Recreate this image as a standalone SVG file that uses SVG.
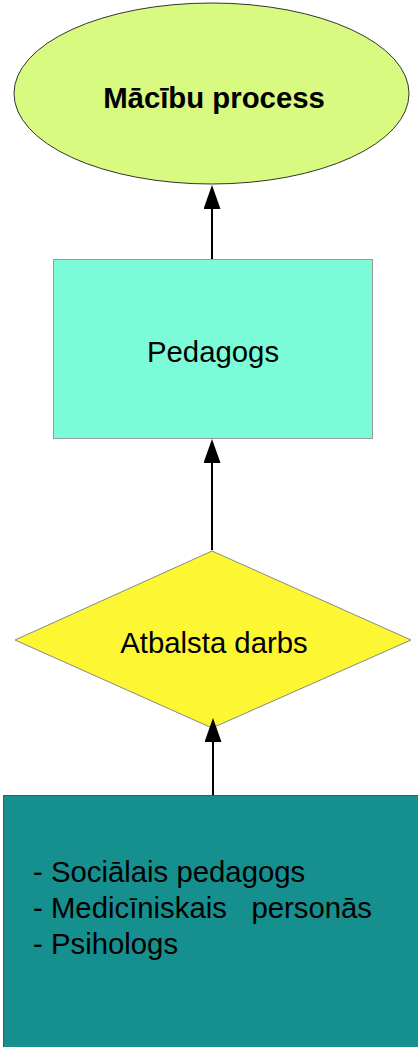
<svg xmlns="http://www.w3.org/2000/svg" width="418" height="1047" viewBox="0 0 418 1047">
<style>
  .lbl { font-family: "Liberation Sans", Arial, sans-serif; font-size: 29.33px; fill: #000; }
  .conn { stroke: #000; stroke-width: 2; fill: none; marker-end: url(#arr); }
</style>
<defs>
  <marker id="arr" viewBox="0 0 24 17" refX="0" refY="8.5" markerWidth="24" markerHeight="17" markerUnits="userSpaceOnUse" orient="auto">
    <path d="M0,0 L24,8.5 L0,17 z" fill="#000"/>
  </marker>
</defs>
<rect width="418" height="1047" fill="#fff"/>
<g id="node-macibu">
  <ellipse cx="211.5" cy="93.5" rx="197.5" ry="90.5" fill="#d8fa80" stroke="#333" stroke-width="1"/>
  <text class="lbl" x="214" y="108" text-anchor="middle" font-weight="bold">Mācību process</text>
</g>
<g id="node-pedagogs">
  <rect x="53.5" y="259.5" width="319" height="179" fill="#7bfbd7" stroke="#999" stroke-width="1"/>
  <text class="lbl" x="213" y="362" text-anchor="middle">Pedagogs</text>
</g>
<g id="node-atbalsta">
  <polygon points="212,551 411,640 212,728 15,640" fill="#fcf633" stroke="#888" stroke-width="1"/>
  <text class="lbl" x="214" y="653" text-anchor="middle">Atbalsta darbs</text>
</g>
<g id="node-personas">
  <rect x="3.5" y="795.5" width="420" height="260" fill="#16908e" stroke="#555" stroke-width="1"/>
  <text class="lbl" x="33" y="882">- Sociālais pedagogs</text>
  <text class="lbl" x="33" y="918" xml:space="preserve">- Medicīniskais   personās</text>
  <text class="lbl" x="33" y="954">- Psihologs</text>
</g>
<g id="connectors">
  <line class="conn" x1="212" y1="259" x2="212" y2="209"/>
  <line class="conn" x1="212" y1="550" x2="212" y2="463"/>
  <line class="conn" x1="213" y1="795" x2="213" y2="742"/>
</g>
</svg>
